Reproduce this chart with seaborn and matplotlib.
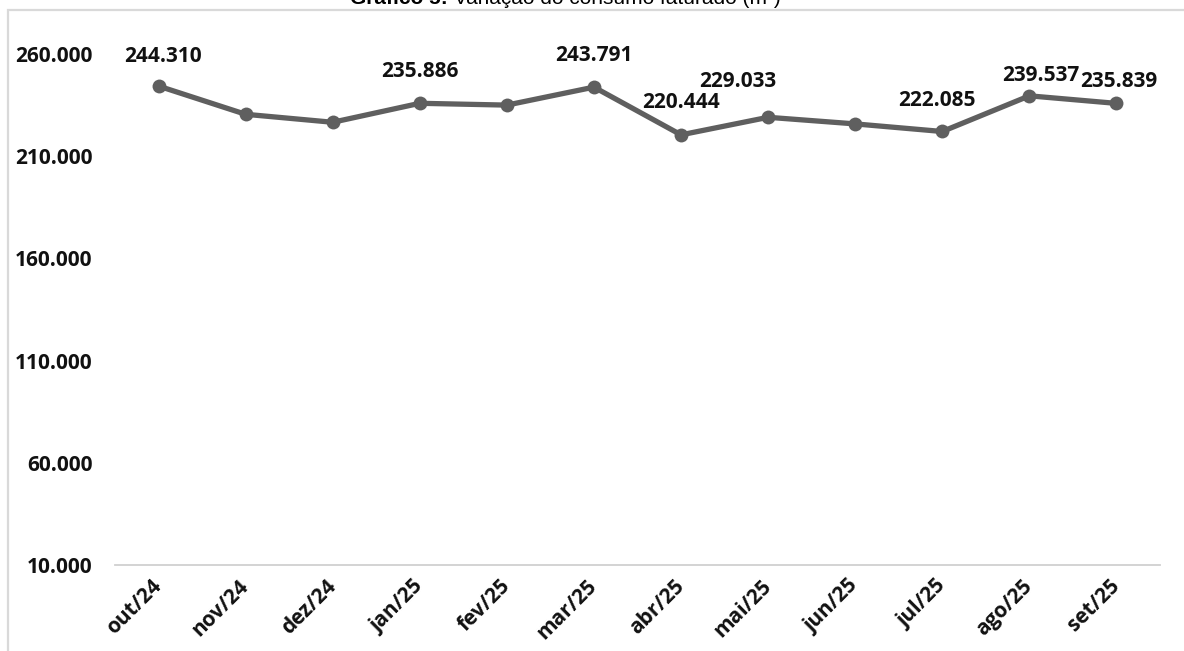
import matplotlib
matplotlib.use("Agg")
import matplotlib.pyplot as plt
import matplotlib.patches as mpatches
from matplotlib.ticker import FuncFormatter, FixedLocator
import seaborn as sns
import pandas as pd

months = ["out/24", "nov/24", "dez/24", "jan/25", "fev/25", "mar/25",
          "abr/25", "mai/25", "jun/25", "jul/25", "ago/25", "set/25"]
consumo = [244310, 230500, 226600, 235886, 235000, 243791,
           220444, 229033, 225800, 222085, 239537, 235839]
labeled = [True, False, False, True, False, True, True, True, False, True, True, True]
yticks = [10000, 60000, 110000, 160000, 210000, 260000]

title_bold = "Gráfico 5:"
title_rest = " Variação do consumo faturado (m³)"

sns.set_theme(style="white")
plt.rcParams["font.family"] = ["Open Sans", "DejaVu Sans"]

df = pd.DataFrame({"mes": months, "consumo": consumo})

fig = plt.figure(figsize=(11.84, 6.51), dpi=100)
ax = fig.add_axes([115/1184, 1-565/651, (1160-115)/1184, (565-54)/651])

sns.lineplot(data=df, x="mes", y="consumo", ax=ax, color="#5f5f5f",
             linewidth=3.8, marker="o", markersize=10, markeredgewidth=0,
             sort=False)

ax.set_xlim(-0.5, len(months) - 0.5)
ax.set_ylim(10000, 260000)
ax.set_xlabel("")
ax.set_ylabel("")

FS = 15
fmt = lambda v, p: f"{int(v):,}".replace(",", ".")
ax.yaxis.set_major_locator(FixedLocator(yticks))
ax.yaxis.set_major_formatter(FuncFormatter(fmt))
ax.tick_params(axis="y", length=0, pad=16, labelsize=FS)
for t in ax.get_yticklabels():
    t.set_fontweight("bold")
    t.set_color("#111111")

ax.set_xticks(range(len(months)))
ax.set_xticklabels(months, rotation=45, ha="right", va="center",
                   rotation_mode="anchor", fontsize=FS, fontweight="bold",
                   color="#111111")
ax.tick_params(axis="x", which="major", length=0, pad=13)
ax.set_xticks([i - 0.5 for i in range(len(months) + 1)], minor=True)
ax.tick_params(axis="x", which="minor", length=6, width=1.3, color="#d0d0d0",
               direction="out")

for s in ["top", "right", "left"]:
    ax.spines[s].set_visible(False)
ax.spines["bottom"].set_color("#d0d0d0")
ax.spines["bottom"].set_linewidth(1.3)

# data labels (offsets in points)
offsets = {0: (3, 14), 3: (0, 15), 5: (0, 15), 6: (0, 16), 7: (-22, 18),
           9: (-4, 15), 10: (8, 7), 11: (2, 8)}
for i, (v, lab) in enumerate(zip(consumo, labeled)):
    if not lab:
        continue
    dx, dy = offsets.get(i, (0, 15))
    ax.annotate(fmt(v, None), (i, v), xytext=(dx, dy), textcoords="offset points",
                ha="center", va="bottom", fontsize=FS, fontweight="bold",
                color="#111111", annotation_clip=False)

# chart frame (cropped)
frame = mpatches.Rectangle((8/1184, -0.2), 1.3, 1 - 10/651 + 0.2,
                           transform=fig.transFigure, fill=False,
                           edgecolor="#d9d9d9", linewidth=1.6)
fig.add_artist(frame)

# title (cropped at top, as in the reference)
fig.canvas.draw()
r = fig.canvas.get_renderer()
tb = fig.text(350/1184, 1 - 4/651, title_bold, ha="left", va="baseline",
              fontsize=15, fontweight="bold", family=["Liberation Sans", "DejaVu Sans"],
              color="#000000")
bb = tb.get_window_extent(renderer=r)
fig.text(bb.x1 / fig.bbox.width, 1 - 4/651, title_rest, ha="left", va="baseline",
         fontsize=15, family=["Liberation Sans", "DejaVu Sans"], color="#000000")

fig.savefig("out.png", dpi=100)
